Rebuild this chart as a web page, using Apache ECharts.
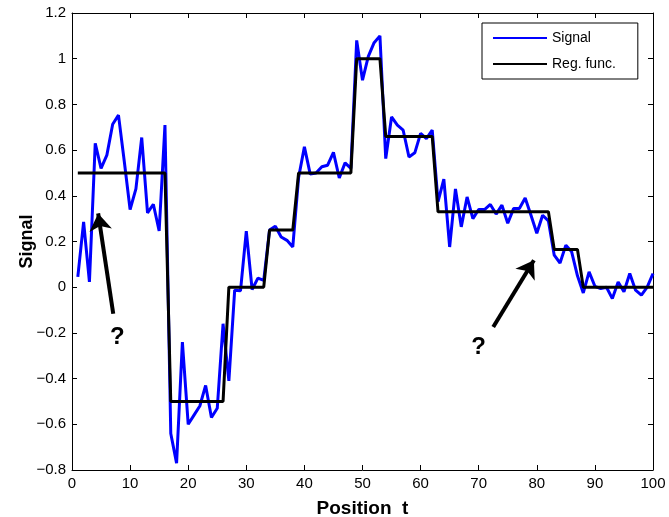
<!DOCTYPE html>
<html>
<head>
<meta charset="utf-8">
<script src="https://cdn.jsdelivr.net/npm/echarts@6/dist/echarts.min.js"></script>
<style>
  html, body { margin: 0; padding: 0; background: #fff; }
  #main { width: 669px; height: 517px; }
</style>
</head>
<body>
<div id="main"></div>
<script>
// signal samples, t = 1..100
const signalValues = [
  0.045, 0.286, 0.023, 0.63, 0.52, 0.578, 0.713, 0.753, 0.55, 0.34,
  0.43, 0.655, 0.325, 0.363, 0.246, 0.71, -0.64, -0.77, -0.24, -0.60,
  -0.56, -0.52, -0.43, -0.57, -0.53, -0.16, -0.41, -0.013, -0.016, 0.245,
  -0.01, 0.04, 0.03, 0.25, 0.267, 0.22, 0.205, 0.176, 0.48, 0.614,
  0.495, 0.50, 0.527, 0.534, 0.59, 0.478, 0.544, 0.52, 1.08, 0.906,
  1.01, 1.07, 1.10, 0.563, 0.745, 0.709, 0.687, 0.57, 0.588, 0.673,
  0.65, 0.687, 0.375, 0.473, 0.176, 0.43, 0.264, 0.395, 0.30, 0.34,
  0.34, 0.362, 0.32, 0.359, 0.28, 0.344, 0.344, 0.39, 0.315, 0.236,
  0.315, 0.29, 0.14, 0.106, 0.184, 0.155, 0.05, -0.025, 0.067, 0.004,
  -0.006, 0, -0.05, 0.023, -0.02, 0.06, -0.013, -0.035, 0.0, 0.06
];

// piecewise constant regression function: level starts at stepStart[i]
const stepStart = [1, 17, 27, 34, 39, 49, 54, 63, 83, 88];
const stepLevel = [0.5, -0.5, 0, 0.25, 0.5, 1, 0.66, 0.33, 0.165, 0];

// annotation arrows [tail, tip] and "?" labels, in data units
const arrows = [
  [[7.1, -0.116], [4.5, 0.323]],
  [[72.5, -0.174], [79.5, 0.118]]
];
const questionMarks = [[7.8, -0.218], [70.0, -0.263]];

const xTicks = { min: 0, max: 100, interval: 10 };
const yTicks = { min: -0.8, max: 1.2, interval: 0.2 };

const positions = signalValues.map((v, i) => i + 1);
const signalData = positions.map((t, i) => [t, signalValues[i]]);
const regData = positions.map(t => {
  let lv = stepLevel[0];
  stepStart.forEach((s, k) => { if (t >= s) lv = stepLevel[k]; });
  return [t, lv];
});

const font = 'Liberation Sans, Arial, Helvetica, sans-serif';
const fmtY = v => {
  const r = Math.round(v * 10) / 10;
  return (r < 0 ? '\u2212' : '') + Math.abs(r);
};

let myChart = echarts.init(document.getElementById('main'));
let option = {
  animation: false,
  textStyle: { fontFamily: font },
  grid: { left: 72, right: 16, top: 13, bottom: 47, show: false, containLabel: false, outerBoundsMode: 'none' },
  legend: {
    orient: 'vertical',
    left: 482,
    top: 23,
    padding: [8, 22, 8, 10],
    itemGap: 12,
    itemWidth: 54,
    itemHeight: 14,
    itemStyle: { opacity: 0 },
    backgroundColor: '#fff',
    borderColor: '#000',
    borderWidth: 1,
    borderRadius: 0,
    textStyle: { fontFamily: font, fontSize: 14, color: '#000' },
    data: ['Signal', 'Reg. func.']
  },
  xAxis: [{
    type: 'value',
    min: xTicks.min, max: xTicks.max, interval: xTicks.interval,
    name: 'Position  t',
    nameLocation: 'middle',
    nameGap: 29,
    nameMoveOverlap: false,
    nameTextStyle: { fontFamily: font, fontSize: 19, fontWeight: 'bold', color: '#000' },
    axisLine: { show: true, onZero: false, lineStyle: { color: '#000', width: 1 } },
    axisTick: { show: true, inside: true, length: 5, lineStyle: { color: '#000' } },
    axisLabel: { fontFamily: font, fontSize: 15, color: '#000', margin: 6 },
    splitLine: { show: false }
  }, {
    type: 'value',
    position: 'top',
    min: xTicks.min, max: xTicks.max, interval: xTicks.interval,
    axisLine: { show: true, onZero: false, lineStyle: { color: '#000', width: 1 } },
    axisTick: { show: true, inside: true, length: 5, lineStyle: { color: '#000' } },
    axisLabel: { show: false },
    splitLine: { show: false }
  }],
  yAxis: [{
    type: 'value',
    min: yTicks.min, max: yTicks.max, interval: yTicks.interval,
    name: 'Signal',
    nameLocation: 'middle',
    nameGap: 36,
    nameMoveOverlap: false,
    nameTextStyle: { fontFamily: font, fontSize: 18, fontWeight: 'bold', color: '#000' },
    axisLine: { show: true, onZero: false, lineStyle: { color: '#000', width: 1 } },
    axisTick: { show: true, inside: true, length: 5, lineStyle: { color: '#000' } },
    axisLabel: { fontFamily: font, fontSize: 15, color: '#000', margin: 6, formatter: fmtY },
    splitLine: { show: false }
  }, {
    type: 'value',
    position: 'right',
    min: yTicks.min, max: yTicks.max, interval: yTicks.interval,
    axisLine: { show: true, onZero: false, lineStyle: { color: '#000', width: 1 } },
    axisTick: { show: true, inside: true, length: 5, lineStyle: { color: '#000' } },
    axisLabel: { show: false },
    splitLine: { show: false }
  }],
  series: [{
    name: 'Signal',
    type: 'line',
    data: signalData,
    symbol: 'none',
    color: '#0000ff',
    lineStyle: { color: '#0000ff', width: 3 },
    silent: true
  }, {
    name: 'Reg. func.',
    type: 'line',
    data: regData,
    symbol: 'none',
    color: '#000',
    lineStyle: { color: '#000', width: 3 },
    silent: true,
    markLine: {
      silent: true,
      symbol: ['none', 'arrow'],
      symbolSize: 17,
      label: { show: false },
      lineStyle: { color: '#000', width: 4, type: 'solid' },
      data: arrows.map(a => [{ coord: a[0] }, { coord: a[1] }])
    },
    markPoint: {
      silent: true,
      symbol: 'circle',
      symbolSize: 0,
      label: {
        show: true,
        position: 'inside',
        formatter: '?',
        fontFamily: font,
        fontSize: 24,
        fontWeight: 'bold',
        color: '#000'
      },
      data: questionMarks.map(q => ({ coord: q }))
    }
  }]
};

myChart.setOption(option);
</script>
</body>
</html>
